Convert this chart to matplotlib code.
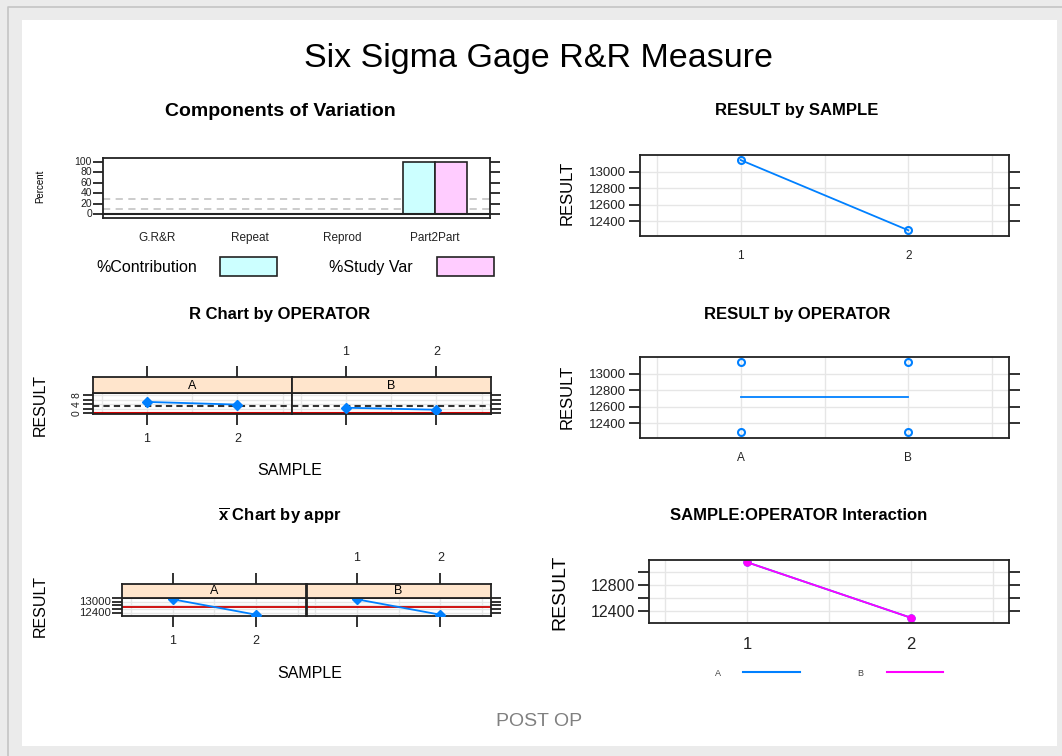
import matplotlib
matplotlib.use("Agg")
import matplotlib.pyplot as plt
from matplotlib.patches import Rectangle
from matplotlib.lines import Line2D
import numpy as np

plt.rcParams['font.family'] = ['Liberation Sans', 'DejaVu Sans']
plt.rcParams['mathtext.fontset'] = 'custom'
plt.rcParams['mathtext.rm'] = 'Liberation Sans'
plt.rcParams['mathtext.bf'] = 'Liberation Sans:bold'

# ---------------- data ----------------
components = ["G.R&R", "Repeat", "Reprod", "Part2Part"]
pct_contribution = [0, 0, 0, 100]
pct_study_var = [0, 0, 0, 100]
ref_lines = [10, 30]

samples = ["1", "2"]
operators = ["A", "B"]
result_by_sample = [13142, 12290]
result_by_operator_A = [13142, 12290]
result_by_operator_B = [13142, 12290]

range_A = [5.0, 3.8]
range_B = [2.4, 1.5]
range_lcl = 0

xbar_A = [13142, 12290]
xbar_B = [13142, 12290]

inter_A = [13142, 12290]
inter_B = [13142, 12290]

BLUE = "#0080ff"
MAGENTA = "#ff00ff"
STRIP = "#ffe5cc"
GRID = "#e6e6e6"
RED = "#cc0000"

W, H = 1062, 756
fig = plt.figure(figsize=(W / 100, H / 100), dpi=100)
fig.patch.set_facecolor("#ebebeb")


def box(l, t, r, b):
    return [l / W, 1 - b / H, (r - l) / W, (b - t) / H]


def fx(x):
    return x / W


def fy(y):
    return 1 - y / H


# background panel + border
fig.patches.append(Rectangle((fx(22), fy(746)), (1057 - 22) / W, (746 - 20) / H,
                             transform=fig.transFigure, facecolor="white",
                             edgecolor="none", zorder=-10))
fig.lines.append(Line2D([fx(8), fx(8), fx(1062)], [fy(756), fy(7), fy(7)],
                        transform=fig.transFigure, color="#c4c4c4", lw=1.2, zorder=-9))

SPW = 1.3


def style_spines(ax):
    for s in ax.spines.values():
        s.set_linewidth(SPW)
        s.set_color("#222222")


def ftext(x, y, s, **kw):
    fig.text(fx(x), fy(y), s, ha=kw.pop("ha", "center"), va=kw.pop("va", "center"), **kw)


# ---------------- titles ----------------
ftext(539, 59, "Six Sigma Gage R&R Measure", fontsize=24.5)
ftext(280, 112, "Components of Variation", fontsize=14, fontweight="bold")
ftext(797, 111, "RESULT by SAMPLE", fontsize=12, fontweight="bold")
ftext(280, 314, "R Chart by OPERATOR", fontsize=12, fontweight="bold")
ftext(797, 314, "RESULT by OPERATOR", fontsize=12, fontweight="bold")
ftext(280, 516, r"$\overline{\mathbf{x}}$ Chart by appr", fontsize=12, fontweight="bold")
ftext(799, 516, "SAMPLE:OPERATOR Interaction", fontsize=12, fontweight="bold")
ftext(539, 722, "POST OP", fontsize=14, color="#808080")

# ---------------- Components of Variation ----------------
ax = fig.add_axes(box(103, 158, 490, 218))
style_spines(ax)
xc = np.arange(1, len(components) + 1)
bw = 0.345
ax.bar(xc - bw / 2, pct_contribution, width=bw, color="#ccffff", edgecolor="#222222", lw=1.2, zorder=3)
ax.bar(xc + bw / 2, pct_study_var, width=bw, color="#ffccff", edgecolor="#222222", lw=1.2, zorder=3)
for v in ref_lines:
    ax.axhline(v, color="#c8c8c8", ls=(0, (4, 3)), lw=1.3, zorder=2)
ax.axhline(0, color="#222222", lw=1.5, zorder=4)
ax.set_xlim(0.42, 4.59)
ax.set_ylim(-7, 107)
ax.set_xticks(xc)
ax.set_xticklabels(components, fontsize=8.5)
ax.set_yticks([0, 20, 40, 60, 80, 100])
ax.tick_params(axis="x", length=0, pad=10, colors="#222222")
ax.tick_params(axis="y", direction="out", length=7, width=1.3, labelsize=7.5, pad=1,
               right=True, left=True, colors="#222222")
for t in ax.get_yticklabels():
    t.set_verticalalignment("center")
ftext(40, 186, "Percent", fontsize=7, rotation=90)
# legend
ftext(147, 267, "%Contribution", fontsize=11.5)
ftext(371, 267, "%Study Var", fontsize=11.5)
fig.patches.append(Rectangle((fx(220), fy(276)), 57 / W, 19 / H, transform=fig.transFigure,
                             facecolor="#ccffff", edgecolor="#222222", lw=1.2))
fig.patches.append(Rectangle((fx(437), fy(276)), 57 / W, 19 / H, transform=fig.transFigure,
                             facecolor="#ffccff", edgecolor="#222222", lw=1.2))


def lattice_right_panel(ax, ylim, yticks, ylabels, xlabels, xlim=(0.4, 2.6), lab_size=9.5,
                        xlab_size=8.5):
    style_spines(ax)
    ax.set_xlim(*xlim)
    ax.set_ylim(*ylim)
    for gx in [0.5, 1, 1.5, 2, 2.5]:
        ax.axvline(gx, color=GRID, lw=1, zorder=0)
    for gy in yticks:
        ax.axhline(gy, color=GRID, lw=1, zorder=0)
    ax.set_xticks([1, 2])
    ax.set_xticklabels(xlabels, fontsize=xlab_size)
    ax.set_yticks(yticks)
    ax.set_yticklabels(ylabels, fontsize=lab_size)
    ax.tick_params(axis="x", length=0, pad=10, colors="#222222")
    ax.tick_params(axis="y", direction="out", length=8, width=1.3, left=True, right=True,
                   colors="#222222", pad=2)


# ---------------- RESULT by SAMPLE ----------------
ax = fig.add_axes(box(640, 155, 1009, 236))
ax.plot([1, 2], result_by_sample, color=BLUE, lw=1.3, marker="o", ms=5, mfc="none", mew=1.5)
lattice_right_panel(ax, (12221, 13203), [12400, 12600, 12800, 13000],
                    ["12400", "12600", "12800", "13000"], samples)
ftext(567, 193, "RESULT", fontsize=12, rotation=90)

# ---------------- RESULT by OPERATOR ----------------
ax = fig.add_axes(box(640, 357, 1009, 438))
xo = [1, 2]
ax.plot([1, 1], result_by_operator_A, ls="none", color=BLUE, marker="o", ms=5, mfc="none", mew=1.5)
ax.plot([2, 2], result_by_operator_B, ls="none", color=BLUE, marker="o", ms=5, mfc="none", mew=1.5)
ax.plot(xo, [np.mean(result_by_operator_A), np.mean(result_by_operator_B)], color=BLUE, lw=1.3)
lattice_right_panel(ax, (12221, 13203), [12400, 12600, 12800, 13000],
                    ["12400", "12600", "12800", "13000"], operators)
ftext(567, 397, "RESULT", fontsize=12, rotation=90)

# ---------------- Interaction ----------------
ax = fig.add_axes(box(649, 560, 1009, 623))
ax.plot([1, 2], inter_A, color=BLUE, lw=1.3, marker="o", ms=5)
ax.plot([1, 2], inter_B, color=MAGENTA, lw=1.3, marker="o", ms=5)
lattice_right_panel(ax, (12209, 13177), [12400, 12600, 12800, 13000],
                    ["12400", "", "12800", ""], samples, lab_size=11.5, xlab_size=12)
ftext(560, 592, "RESULT", fontsize=14, rotation=90)
ftext(718, 673, "A", fontsize=6.5, color="#444444")
ftext(860, 673, "B", fontsize=6.5, color="#444444")
fig.lines.append(Line2D([fx(743), fx(800)], [fy(672), fy(672)], transform=fig.transFigure,
                        color=BLUE, lw=1.5))
fig.lines.append(Line2D([fx(887), fx(943)], [fy(672), fy(672)], transform=fig.transFigure,
                        color=MAGENTA, lw=1.5))


# ---------------- strip panels ----------------
def strip_panel(l, r, ts, tp, b, name, first, last, ylim, yticks, ylabels, ylabsize, yrot=0):
    ax = fig.add_axes(box(l, tp, r, b))
    sx = fig.add_axes(box(l, ts, r, tp))
    style_spines(ax)
    style_spines(sx)
    sx.set_facecolor(STRIP)
    for a in (ax, sx):
        a.set_xlim(0.4, 2.6)
    sx.set_ylim(0, 1)
    sx.text(1.5, 0.45, name, ha="center", va="center", fontsize=9)
    ax.set_ylim(*ylim)
    for gx in [0.5, 1, 1.5, 2, 2.5]:
        ax.axvline(gx, color=GRID, lw=1, zorder=0)
    for gy in yticks:
        ax.axhline(gy, color=GRID, lw=1, zorder=0)
    sx.set_yticks([])
    sx.set_xticks([1, 2])
    sx.tick_params(axis="x", direction="out", length=8, width=1.3, bottom=False, top=True,
                   labelbottom=False, labeltop=last, labelsize=9, colors="#222222", pad=6)
    sx.set_xticklabels(samples)
    ax.set_xticks([1, 2])
    ax.set_xticklabels(samples)
    ax.tick_params(axis="x", direction="out", length=8, width=1.3, labelbottom=first,
                   labelsize=9, colors="#222222", pad=6)
    ax.set_yticks(yticks)
    ax.set_yticklabels(ylabels if first else [""] * len(yticks), fontsize=ylabsize,
                       rotation=yrot, va="center")
    ax.tick_params(axis="y", direction="out", length=7, width=1.3, left=first, right=last,
                   labelleft=first, colors="#222222", pad=1)
    return ax


# R chart
rbar = np.mean(range_A + range_B)
for i, (name, vals) in enumerate(zip(operators, [range_A, range_B])):
    l = 92.7 + i * 199
    ax = strip_panel(l, l + 199, 377, 392.5, 414, name, i == 0, i == 1, (-0.4, 9.2),
                     [0, 2, 4, 6, 8], ["0", "", "4", "", "8"], 7.5, yrot=90)
    ax.axhline(range_lcl, color=RED, lw=1.5, zorder=2)
    ax.axhline(rbar, color="#333333", ls=(0, (3, 2)), lw=1.5, zorder=2)
    ax.plot([1, 2], vals, color=BLUE, lw=1.3, marker="D", ms=5, zorder=3)
ftext(40, 405, "RESULT", fontsize=11.5, rotation=90)
ftext(290, 470, "SAMPLE", fontsize=11.5)

# x-bar chart
grand = np.mean(xbar_A + xbar_B)
for i, (name, vals) in enumerate(zip(operators, [xbar_A, xbar_B])):
    l = 122.3 + i * 184.2
    ax = strip_panel(l, l + 184.2, 583.5, 597.5, 616, name, i == 0, i == 1, (12220, 13240),
                     [12400, 12600, 12800, 13000, 13200],
                     ["12400", "", "", "13000", ""], 8.2)
    ax.axhline(grand, color=RED, lw=1.3, zorder=2)
    ax.plot([1, 2], vals, color=BLUE, lw=1.3, marker="D", ms=5, zorder=3)
ftext(40, 606, "RESULT", fontsize=11.5, rotation=90)
ftext(310, 673, "SAMPLE", fontsize=11.5)

fig.savefig("out.png", dpi=100, facecolor=fig.get_facecolor())
